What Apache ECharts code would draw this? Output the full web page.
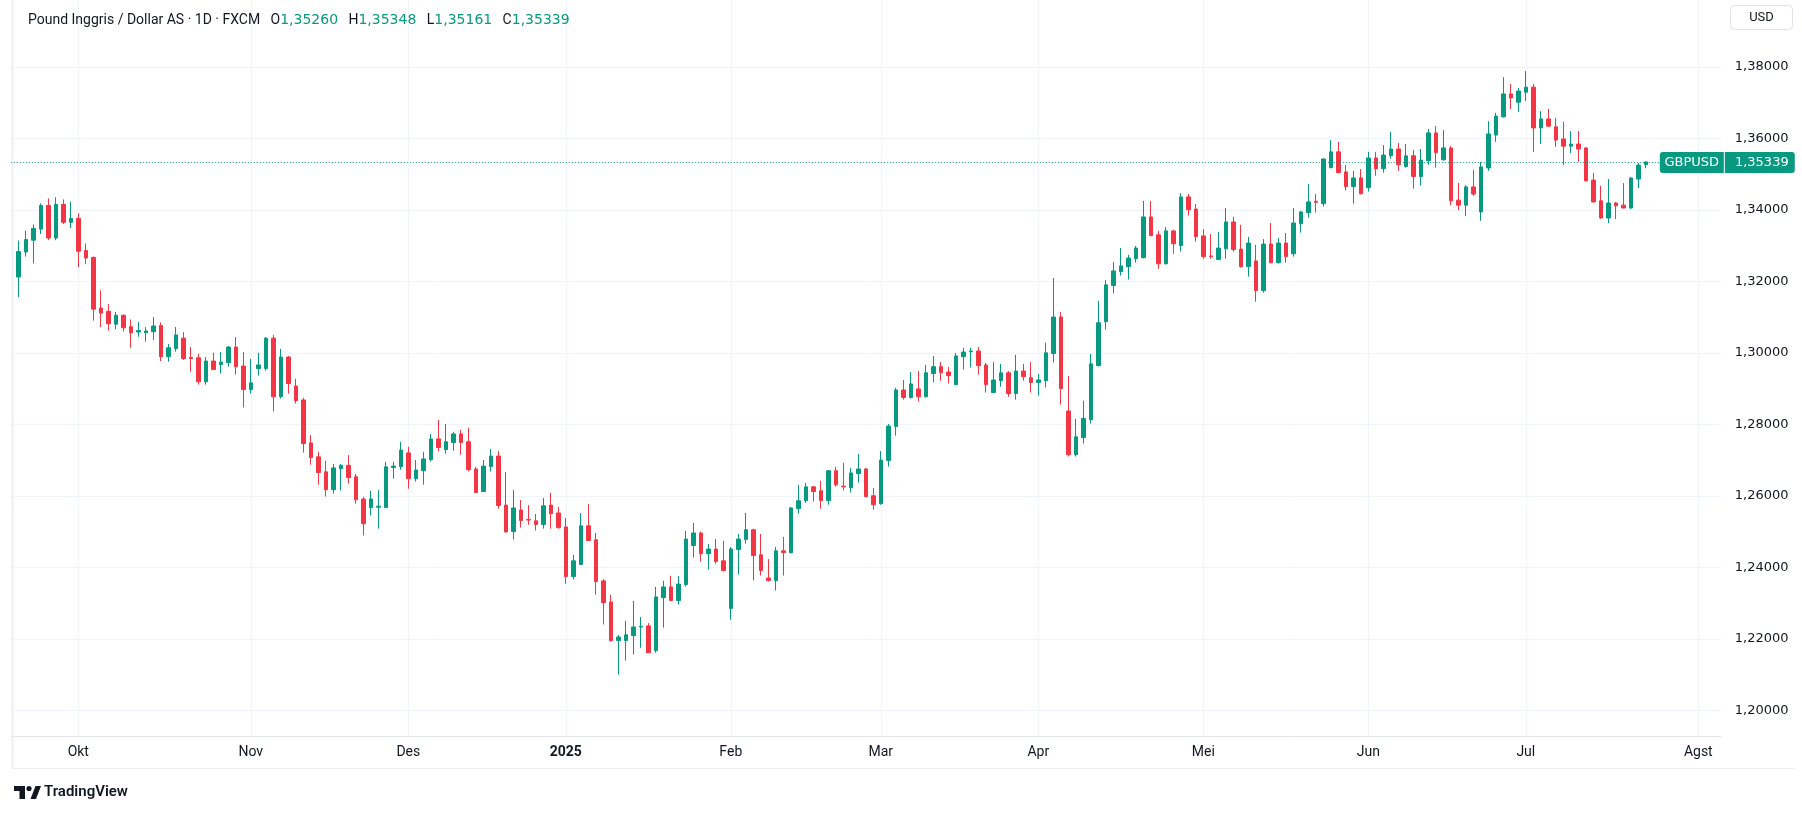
<!DOCTYPE html>
<html><head><meta charset="utf-8">
<script src="https://cdn.jsdelivr.net/npm/echarts@6/dist/echarts.min.js"></script>
<style>html,body{margin:0;padding:0;background:#fff;}#c{width:1802px;height:813px;}</style>
</head><body><div id="c"></div>
<script>
// OHLC per trading day, 2024-09-19 .. 2025-07-23 (FXCM, no bars on 25 Dec / 1 Jan)
const openP = [1.3212,1.3282,1.3315,1.3346,1.3412,1.3321,1.3415,1.3365,1.3376,1.3286,1.3267,1.3125,1.3116,1.3080,1.3105,1.3073,1.3058,1.3056,1.3059,1.3076,1.2989,1.3012,1.3041,1.2987,1.2986,1.2919,1.2977,1.2967,1.2973,1.3016,1.2963,1.2897,1.2956,1.2956,1.3041,1.2877,1.2988,1.2907,1.2868,1.2748,1.2709,1.2667,1.2617,1.2676,1.2685,1.2653,1.2591,1.2567,1.2568,1.2567,1.2679,1.2682,1.2720,1.2648,1.2670,1.2701,1.2759,1.2729,1.2749,1.2773,1.2751,1.2675,1.2612,1.2682,1.2711,1.2574,1.2500,1.2560,1.2534,1.2530,1.2520,1.2574,1.2552,1.2513,1.2374,1.2408,1.2516,1.2477,1.2362,1.2303,1.2195,1.2195,1.2209,1.2233,1.2236,1.2167,1.2315,1.2345,1.2307,1.2352,1.2461,1.2496,1.2438,1.2451,1.2418,1.2285,1.2450,1.2478,1.2505,1.2435,1.2370,1.2363,1.2446,1.2441,1.2564,1.2586,1.2625,1.2614,1.2587,1.2670,1.2627,1.2623,1.2662,1.2675,1.2600,1.2578,1.2699,1.2794,1.2896,1.2875,1.2899,1.2877,1.2942,1.2961,1.2946,1.2911,1.2989,1.3003,1.3005,1.2966,1.2889,1.2922,1.2944,1.2886,1.2949,1.2930,1.2917,1.2922,1.2998,1.3100,1.2837,1.2715,1.2763,1.2813,1.2964,1.3087,1.3188,1.3227,1.3241,1.3263,1.3266,1.3380,1.3330,1.3249,1.3341,1.3300,1.3436,1.3402,1.3327,1.3271,1.3261,1.3291,1.3366,1.3290,1.3241,1.3257,1.3174,1.3304,1.3252,1.3307,1.3277,1.3361,1.3392,1.3424,1.3417,1.3518,1.3562,1.3506,1.3465,1.3489,1.3462,1.3545,1.3515,1.3551,1.3570,1.3521,1.3551,1.3493,1.3537,1.3615,1.3540,1.3573,1.3427,1.3413,1.3464,1.3394,1.3517,1.3609,1.3660,1.3724,1.3701,1.3729,1.3743,1.3629,1.3654,1.3632,1.3598,1.3578,1.3584,1.3573,1.3483,1.3425,1.3377,1.3419,1.3413,1.3405,1.3486,1.35260];
const closeP = [1.3283,1.3317,1.3348,1.3412,1.3321,1.3415,1.3365,1.3376,1.3284,1.3265,1.3122,1.3111,1.3081,1.3105,1.3070,1.3056,1.3062,1.3061,1.3075,1.2989,1.3014,1.3050,1.2984,1.2984,1.2919,1.2977,1.2953,1.2974,1.3016,1.2961,1.2897,1.2916,1.2966,1.3041,1.2877,1.2988,1.2914,1.2866,1.2746,1.2707,1.2665,1.2617,1.2678,1.2685,1.2651,1.2589,1.2522,1.2591,1.2571,1.2681,1.2683,1.2728,1.2648,1.2672,1.2703,1.2759,1.2735,1.2751,1.2773,1.2749,1.2673,1.2609,1.2683,1.2711,1.2573,1.2499,1.2566,1.2531,1.2532,1.2520,1.2572,1.2550,1.2511,1.2374,1.2418,1.2516,1.2475,1.2360,1.2301,1.2195,1.2205,1.2211,1.2233,1.2235,1.2161,1.2317,1.2345,1.2307,1.2353,1.2479,1.2496,1.2438,1.2451,1.2416,1.2391,1.2451,1.2479,1.2505,1.2433,1.2391,1.2363,1.2446,1.2441,1.2566,1.2586,1.2625,1.2612,1.2587,1.2670,1.2631,1.2625,1.2664,1.2675,1.2598,1.2575,1.2700,1.2795,1.2896,1.2875,1.2913,1.2877,1.2944,1.2961,1.2944,1.2936,1.2991,1.3002,1.3005,1.2964,1.2911,1.2924,1.2944,1.2886,1.2949,1.2933,1.2917,1.2924,1.3000,1.3100,1.2900,1.2715,1.2765,1.2816,1.2969,1.3084,1.3190,1.3229,1.3243,1.3265,1.3293,1.3380,1.3328,1.3249,1.3341,1.3305,1.3436,1.3400,1.3325,1.3269,1.3269,1.3293,1.3366,1.3289,1.3241,1.3307,1.3174,1.3304,1.3252,1.3307,1.3269,1.3363,1.3394,1.3422,1.3421,1.3542,1.3562,1.3504,1.3465,1.3489,1.3445,1.3545,1.3515,1.3553,1.3570,1.3526,1.3551,1.3493,1.3539,1.3615,1.3560,1.3573,1.3425,1.3413,1.3464,1.3444,1.3520,1.3612,1.3662,1.3724,1.3713,1.3732,1.3743,1.3629,1.3654,1.3634,1.3595,1.3578,1.3584,1.3570,1.3481,1.3422,1.3377,1.3419,1.3411,1.3405,1.3489,1.3525,1.35339];
const lowP = [1.3156,1.3269,1.3250,1.3332,1.3315,1.3315,1.3360,1.3349,1.3240,1.3248,1.3090,1.3072,1.3062,1.3066,1.3060,1.3014,1.3045,1.3031,1.3036,1.2977,1.2975,1.3003,1.2980,1.2947,1.2911,1.2911,1.2953,1.2942,1.2961,1.2939,1.2847,1.2886,1.2936,1.2950,1.2836,1.2872,1.2886,1.2858,1.2721,1.2687,1.2631,1.2598,1.2606,1.2615,1.2634,1.2578,1.2489,1.2545,1.2508,1.2567,1.2648,1.2673,1.2620,1.2640,1.2631,1.2696,1.2724,1.2718,1.2726,1.2715,1.2668,1.2609,1.2612,1.2668,1.2564,1.2497,1.2478,1.2511,1.2519,1.2503,1.2508,1.2508,1.2508,1.2354,1.2366,1.2408,1.2475,1.2323,1.2240,1.2192,1.2100,1.2139,1.2156,1.2175,1.2161,1.2161,1.2231,1.2305,1.2296,1.2346,1.2427,1.2416,1.2394,1.2410,1.2388,1.2253,1.2380,1.2466,1.2363,1.2377,1.2360,1.2335,1.2377,1.2438,1.2550,1.2580,1.2584,1.2564,1.2575,1.2626,1.2615,1.2609,1.2637,1.2595,1.2561,1.2575,1.2682,1.2768,1.2869,1.2872,1.2864,1.2875,1.2917,1.2922,1.2914,1.2909,1.2953,1.2959,1.2939,1.2889,1.2887,1.2905,1.2877,1.2869,1.2922,1.2889,1.2880,1.2903,1.2973,1.2855,1.2710,1.2710,1.2746,1.2802,1.2962,1.3065,1.3166,1.3216,1.3205,1.3252,1.3264,1.3326,1.3235,1.3247,1.3277,1.3283,1.3384,1.3311,1.3263,1.3263,1.3259,1.3263,1.3283,1.3238,1.3213,1.3143,1.3168,1.3250,1.3250,1.3252,1.3269,1.3336,1.3378,1.3392,1.3409,1.3516,1.3502,1.3454,1.3417,1.3443,1.3451,1.3495,1.3504,1.3543,1.3509,1.3518,1.3459,1.3468,1.3526,1.3518,1.3537,1.3413,1.3399,1.3383,1.3439,1.3369,1.3509,1.3590,1.3658,1.3682,1.3673,1.3704,1.3562,1.3584,1.3632,1.3576,1.3525,1.3559,1.3534,1.3479,1.3420,1.3375,1.3363,1.3374,1.3404,1.3402,1.3461,1.35161];
const highP = [1.3314,1.3342,1.3359,1.3418,1.3432,1.3435,1.3429,1.3423,1.3390,1.3306,1.3269,1.3175,1.3136,1.3114,1.3107,1.3093,1.3086,1.3072,1.3100,1.3085,1.3025,1.3072,1.3058,1.3016,1.2997,1.2988,1.3000,1.3002,1.3019,1.3044,1.3002,1.2983,1.3000,1.3044,1.3050,1.3011,1.2991,1.2927,1.2874,1.2770,1.2723,1.2698,1.2689,1.2689,1.2714,1.2661,1.2597,1.2614,1.2616,1.2695,1.2695,1.2751,1.2737,1.2700,1.2723,1.2773,1.2812,1.2801,1.2779,1.2784,1.2790,1.2681,1.2700,1.2731,1.2725,1.2667,1.2616,1.2588,1.2574,1.2549,1.2594,1.2608,1.2569,1.2538,1.2435,1.2552,1.2577,1.2496,1.2367,1.2323,1.2211,1.2250,1.2306,1.2261,1.2244,1.2345,1.2362,1.2376,1.2376,1.2502,1.2524,1.2500,1.2465,1.2479,1.2474,1.2457,1.2493,1.2552,1.2508,1.2493,1.2423,1.2457,1.2485,1.2569,1.2630,1.2636,1.2627,1.2642,1.2672,1.2681,1.2692,1.2678,1.2717,1.2678,1.2622,1.2725,1.2801,1.2902,1.2924,1.2946,1.2949,1.2966,1.2991,1.2974,1.2960,1.2999,1.3014,1.3014,1.3016,1.2972,1.2974,1.2969,1.2949,1.2994,1.2969,1.2974,1.2941,1.3028,1.3209,1.3114,1.2935,1.2815,1.2866,1.2997,1.3145,1.3204,1.3254,1.3293,1.3274,1.3299,1.3425,1.3425,1.3341,1.3352,1.3344,1.3447,1.3444,1.3416,1.3346,1.3332,1.3338,1.3405,1.3380,1.3358,1.3324,1.3302,1.3318,1.3363,1.3321,1.3335,1.3405,1.3397,1.3472,1.3444,1.3544,1.3595,1.3590,1.3525,1.3509,1.3514,1.3562,1.3562,1.3581,1.3618,1.3587,1.3584,1.3567,1.3570,1.3626,1.3634,1.3623,1.3578,1.3475,1.3469,1.3511,1.3534,1.3648,1.3671,1.3771,1.3752,1.3741,1.3788,1.3752,1.3676,1.3682,1.3657,1.3646,1.3620,1.3620,1.3575,1.3503,1.3467,1.3486,1.3422,1.3475,1.3491,1.3531,1.35348];

const holidays = ['2024-12-25', '2025-01-01'];
const monthTicks = ['2024-10-01','2024-11-01','2024-12-02','2025-01-02','2025-02-03','2025-03-03','2025-04-01','2025-05-01','2025-06-02','2025-07-01','2025-08-01'];
const monthLabels = ['Okt','Nov','Des','2025','Feb','Mar','Apr','Mei','Jun','Jul','Agst'];
const priceTicks = [1.20,1.22,1.24,1.26,1.28,1.30,1.32,1.34,1.36,1.38];
const symbolName = 'GBPUSD';
const titleText = 'Pound Inggris / Dollar AS · 1D · FXCM';

// trading-day calendar: one blank day before, data days, then blank days up to early August
function iso(d){return d.toISOString().slice(0,10);}
const categories = ['2024-09-18'];
{
  let d = new Date(Date.UTC(2024,8,19));
  const end = new Date(Date.UTC(2025,7,6));
  while (d <= end) {
    const wd = d.getUTCDay();
    const s = iso(d);
    if (wd !== 0 && wd !== 6 && holidays.indexOf(s) < 0) categories.push(s);
    d = new Date(d.getTime() + 86400000);
  }
}
const candleData = categories.map((c, j) => {
  const i = j - 1;
  if (i >= 0 && i < openP.length) return [openP[i], closeP[i], lowP[i], highP[i]];
  return ['-', '-', '-', '-'];
});
const n = openP.length - 1;
const fmt = v => v.toFixed(5).replace('.', ',');
const UP = '#089981', DOWN = '#f23645', TXT = '#131722', GRID = '#f0f3fa';
const FONT = 'Roboto', NUMFONT = 'DejaVu Sans';

const chart = echarts.init(document.getElementById('c'), null, {renderer: 'canvas'});
const lastColor = closeP[n] >= openP[n] ? UP : DOWN;
chart.setOption({
  animation: false,
  backgroundColor: '#ffffff',
  textStyle: {fontFamily: FONT},
  title: {
    left: 23, top: 8,
    text: titleText + '   O{v|' + fmt(openP[n]) + '}   H{v|' + fmt(highP[n]) + '}   L{v|' + fmt(lowP[n]) + '}   C{v|' + fmt(closeP[n]) + '}',
    textStyle: {fontSize: 14, fontWeight: 'normal', color: TXT, fontFamily: FONT,
      rich: {v: {fontSize: 14, color: lastColor, fontFamily: NUMFONT}}}
  },
  grid: {left: 10.8, right: 81.2, top: 0, bottom: 77, containLabel: false},
  xAxis: {
    type: 'category', data: categories, boundaryGap: false,
    axisLine: {show: true, lineStyle: {color: '#e0e3eb'}},
    axisTick: {show: false},
    axisLabel: {
      interval: (idx, val) => monthTicks.indexOf(val) >= 0,
      formatter: val => { const k = monthTicks.indexOf(val); if (k < 0) return ''; return monthLabels[k] === '2025' ? '{b|2025}' : monthLabels[k]; },
      color: TXT, fontSize: 14, margin: 9, fontFamily: FONT,
      rich: {b: {fontWeight: 'bold', fontSize: 14, color: TXT, fontFamily: FONT}}
    },
    splitLine: {show: true, interval: (idx, val) => monthTicks.indexOf(val) >= 0, lineStyle: {color: GRID, width: 1}}
  },
  yAxis: {
    type: 'value', position: 'right', scale: true,
    min: 1.19281, max: 1.39868,
    axisLine: {show: false},
    axisTick: {show: false, customValues: priceTicks},
    axisLabel: {customValues: priceTicks, formatter: v => fmt(v), color: TXT, fontSize: 13, margin: 14, fontFamily: NUMFONT},
    splitLine: {show: true, lineStyle: {color: GRID, width: 1}}
  },
  series: [{
    type: 'candlestick', data: candleData, barWidth: 4,
    itemStyle: {color: UP, color0: DOWN, borderColor: UP, borderColor0: DOWN, borderColorDoji: UP, borderWidth: 1}
  }]
});

// last-price line, tag and frame, positioned with the chart's own scales
const yPix = Math.round(chart.convertToPixel({yAxisIndex: 0}, closeP[n])) + 0.5;
const xLeft = chart.convertToPixel({xAxisIndex: 0}, categories[0]);
const xRight = chart.convertToPixel({xAxisIndex: 0}, categories[categories.length - 1]);
chart.setOption({
  graphic: [
    {type: 'line', shape: {x1: 12.5, y1: 0, x2: 12.5, y2: 768}, style: {stroke: '#eceff3', lineWidth: 2}, z: 1},
    {type: 'line', shape: {x1: 12, y1: 768.5, x2: 1795, y2: 768.5}, style: {stroke: '#eceff3', lineWidth: 1}, z: 1},
    {type: 'line', shape: {x1: xLeft, y1: yPix, x2: xRight, y2: yPix}, style: {stroke: lastColor, lineWidth: 1, lineDash: [1, 2]}, z: 5},
    {type: 'rect', shape: {x: xRight - 61, y: yPix - 10.5, width: 64, height: 21, r: [3, 0, 0, 3]}, style: {fill: lastColor}, z: 10},
    {type: 'text', x: xRight - 29, y: yPix, style: {text: symbolName, fill: '#ffffff', font: '13px ' + NUMFONT, align: 'center', verticalAlign: 'middle'}, z: 11},
    {type: 'rect', shape: {x: xRight + 4, y: yPix - 10.5, width: 70, height: 21, r: [0, 3, 3, 0]}, style: {fill: lastColor}, z: 10},
    {type: 'text', x: xRight + 41, y: yPix, style: {text: fmt(closeP[n]), fill: '#ffffff', font: '13px ' + NUMFONT, align: 'center', verticalAlign: 'middle'}, z: 11},
    {type: 'rect', shape: {x: 1730.5, y: 5.5, width: 62, height: 24, r: 4}, style: {fill: '#ffffff', stroke: '#e0e3eb', lineWidth: 1}, z: 10},
    {type: 'text', x: 1761.5, y: 17.5, style: {text: 'USD', fill: TXT, font: '13px ' + FONT, align: 'center', verticalAlign: 'middle'}, z: 11},
    {type: 'polygon', shape: {points: [[14,786],[25,786],[25,799],[19.5,799],[19.5,791],[14,791]]}, style: {fill: TXT}, z: 10},
    {type: 'circle', shape: {cx: 29, cy: 788.5, r: 2.6}, style: {fill: TXT}, z: 10},
    {type: 'polygon', shape: {points: [[30.5,799],[35.5,786],[41,786],[36,799]]}, style: {fill: TXT}, z: 10},
    {type: 'text', x: 44, y: 792.5, style: {text: 'TradingView', fill: TXT, font: '600 15px ' + FONT, verticalAlign: 'middle'}, z: 10}
  ]
});
</script></body></html>
